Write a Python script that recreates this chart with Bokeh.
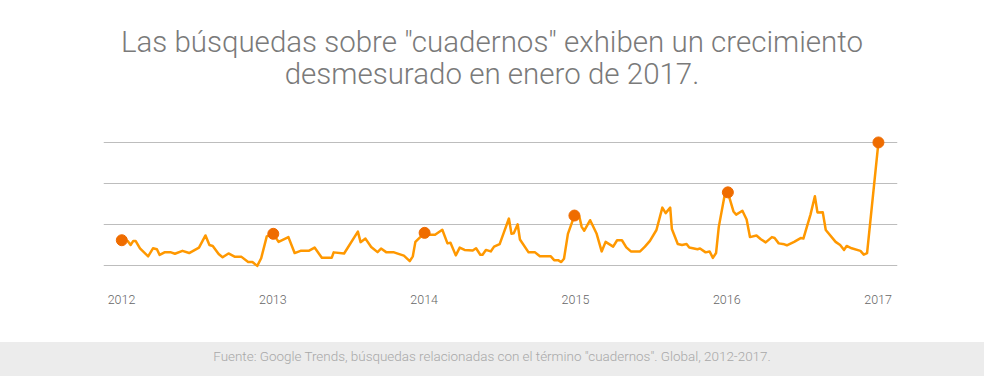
from bokeh.plotting import figure
from bokeh.models import Div, FixedTicker, Range1d
from bokeh.layouts import column
from bokeh.embed import file_html
from bokeh.resources import INLINE

title_lines = ['Las búsquedas sobre "cuadernos" exhiben un crecimiento',
               'desmesurado en enero de 2017.']
footer_text = 'Fuente: Google Trends, búsquedas relacionadas con el término "cuadernos". Global, 2012-2017.'

# decimal year of each observation
years = [
    2012.002, 2012.041, 2012.060, 2012.078, 2012.093, 2012.122, 2012.176, 2012.208,
    2012.234, 2012.252, 2012.284, 2012.327, 2012.353, 2012.403, 2012.447, 2012.512,
    2012.555, 2012.581, 2012.603, 2012.642, 2012.668, 2012.707, 2012.750, 2012.793,
    2012.837, 2012.865, 2012.897, 2012.923, 2012.960, 2013.003, 2013.038, 2013.103,
    2013.144, 2013.183, 2013.237, 2013.276, 2013.324, 2013.389, 2013.402, 2013.471,
    2013.562, 2013.580, 2013.612, 2013.650, 2013.692, 2013.715, 2013.751, 2013.801,
    2013.866, 2013.905, 2013.925, 2013.942, 2014.003, 2014.040, 2014.072, 2014.120,
    2014.154, 2014.174, 2014.209, 2014.235, 2014.267, 2014.321, 2014.343, 2014.371,
    2014.386, 2014.408, 2014.440, 2014.462, 2014.499, 2014.527, 2014.560, 2014.577,
    2014.592, 2014.618, 2014.633, 2014.690, 2014.733, 2014.765, 2014.837, 2014.859,
    2014.885, 2014.906, 2014.924, 2014.950, 2014.993, 2015.025, 2015.041, 2015.058,
    2015.097, 2015.140, 2015.173, 2015.199, 2015.249, 2015.275, 2015.307, 2015.336,
    2015.366, 2015.427, 2015.459, 2015.492, 2015.535, 2015.574, 2015.596, 2015.626,
    2015.637, 2015.676, 2015.704, 2015.734, 2015.752, 2015.806, 2015.823, 2015.860,
    2015.886, 2015.908, 2015.929, 2015.947, 2015.986, 2016.007, 2016.016, 2016.044,
    2016.062, 2016.103, 2016.131, 2016.153, 2016.196, 2016.225, 2016.257, 2016.298,
    2016.316, 2016.343, 2016.380, 2016.397, 2016.445, 2016.488, 2016.506, 2016.553,
    2016.582, 2016.599, 2016.634, 2016.654, 2016.719, 2016.749, 2016.775, 2016.792,
    2016.825, 2016.883, 2016.905, 2016.927, 2017.002,
]

# relative search interest
interest = [
    28.3, 27.8, 24.8, 27.8, 27.8, 22.4, 16.5, 22.4,
    21.7, 17.5, 19.4, 19.4, 18.4, 20.5, 18.9, 22.9,
    31.8, 24.8, 24.1, 18.2, 15.8, 18.6, 16.1, 16.1,
    12.3, 12.3, 9.5, 15.1, 31.1, 33.0, 27.1, 30.6,
    18.9, 20.5, 20.5, 22.9, 15.4, 15.4, 19.4, 18.6,
    34.6, 26.9, 29.5, 23.4, 19.6, 22.2, 19.4, 19.4,
    17.0, 13.0, 16.5, 27.1, 33.7, 32.3, 32.3, 36.0,
    26.0, 26.4, 17.2, 22.9, 21.2, 20.8, 22.4, 17.7,
    17.7, 21.2, 20.1, 23.6, 25.5, 34.1, 44.2, 33.0,
    33.4, 40.0, 28.8, 19.4, 19.4, 16.5, 16.5, 13.7,
    13.7, 12.3, 14.7, 33.0, 46.4, 45.9, 38.1, 35.3,
    43.0, 33.0, 20.1, 27.1, 23.6, 28.3, 28.3, 23.1,
    20.1, 20.1, 23.6, 27.8, 35.8, 52.2, 48.2, 52.2,
    36.5, 25.5, 24.8, 25.5, 22.9, 21.7, 22.2, 19.4,
    20.1, 15.4, 18.9, 38.1, 61.5, 63.4, 59.9, 49.4,
    47.1, 49.9, 43.5, 30.6, 31.8, 29.0, 26.7, 30.6,
    29.9, 26.0, 25.3, 24.6, 27.1, 29.9, 29.5, 47.1,
    60.6, 48.7, 48.9, 35.8, 27.1, 24.8, 21.2, 24.1,
    22.4, 20.5, 17.7, 18.9, 100.0,
]

# January observations that are highlighted
january_idx = [0, 29, 52, 84, 117, 148]

tick_years = [2012, 2013, 2014, 2015, 2016, 2017]
tick_labels = ["2012", "2013", "2014", "2015", "2016", "2017"]
grid_values = [10, 40, 70, 100]

W = 984

title_div = Div(
    text="<br>".join(title_lines),
    width=W, height=107, margin=0,
    styles={"text-align": "center", "font-family": "Roboto", "font-weight": "300",
            "font-size": "29.5px", "line-height": "31.6px", "color": "#7a7a7a",
            "padding-top": "27px", "box-sizing": "border-box",
            "width": f"{W}px", "height": "107px"},
)

p = figure(width=W, height=235, output_backend="svg", toolbar_location=None,
           x_range=Range1d(2011.881, 2017.128), y_range=Range1d(0.24, 107.3),
           min_border_left=103, min_border_right=87, min_border_top=25,
           min_border_bottom=64, margin=0)
p.outline_line_color = None
p.background_fill_color = "white"
p.border_fill_color = "white"
p.xgrid.visible = False
p.yaxis.visible = False
p.ygrid.ticker = FixedTicker(ticks=grid_values)
p.ygrid.grid_line_color = "#bdbdbd"
p.ygrid.grid_line_width = 1

p.xaxis.ticker = FixedTicker(ticks=tick_years)
p.xaxis.major_label_overrides = {y: l for y, l in zip(tick_years, tick_labels)}
p.xaxis.axis_line_color = None
p.xaxis.major_tick_line_color = None
p.xaxis.minor_tick_line_color = None
p.xaxis.major_label_standoff = 10
p.xaxis.major_label_text_font = "Roboto Light"
p.xaxis.major_label_text_font_size = "12.5px"
p.xaxis.major_label_text_color = "#666666"

p.line(years, interest, line_color="#ff9800", line_width=2.5, line_join="round")
p.scatter([years[i] for i in january_idx], [interest[i] for i in january_idx],
          size=11, fill_color="#ef6c00", line_color="#ef6c00")

footer_div = Div(
    text=footer_text,
    width=W, height=34, margin=0,
    styles={"text-align": "center", "font-family": "Roboto", "font-weight": "300",
            "font-size": "13.45px", "line-height": "30px", "color": "#a8a8a8",
            "background-color": "#ececec", "width": f"{W}px", "height": "34px",
            "box-sizing": "border-box"},
)

layout = column(title_div, p, footer_div, spacing=0, margin=0)
open("out.html", "w").write(file_html(layout, INLINE))
